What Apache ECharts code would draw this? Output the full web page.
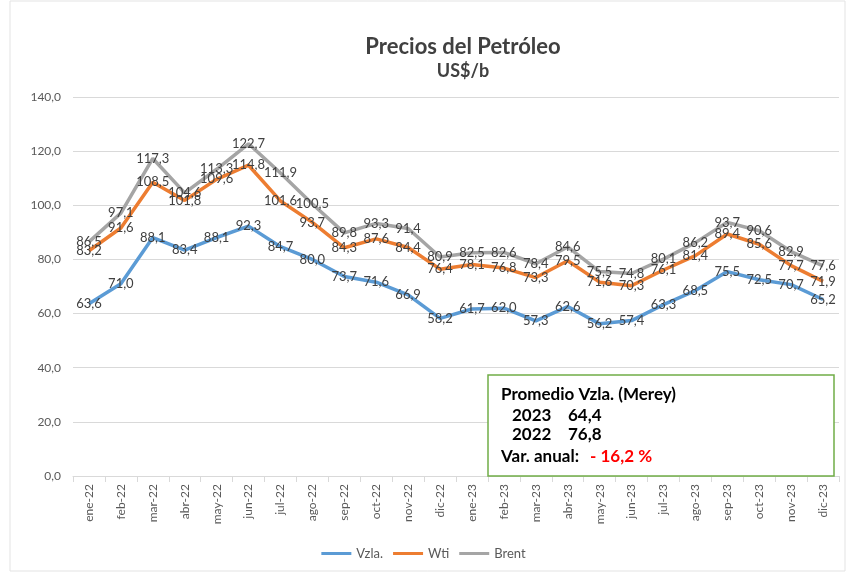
<!DOCTYPE html>
<html>
<head>
<meta charset="utf-8">
<script src="https://cdn.jsdelivr.net/npm/echarts@6/dist/echarts.min.js"></script>
<style>html,body{margin:0;padding:0;background:#fff}#c{width:847px;height:573px}</style>
</head>
<body>
<div id="c"></div>
<script>
const categories = ['ene-22','feb-22','mar-22','abr-22','may-22','jun-22','jul-22','ago-22','sep-22','oct-22','nov-22','dic-22','ene-23','feb-23','mar-23','abr-23','may-23','jun-23','jul-23','ago-23','sep-23','oct-23','nov-23','dic-23'];
const vzla = [63.6,71.0,88.1,83.4,88.1,92.3,84.7,80.0,73.7,71.6,66.9,58.2,61.7,62.0,57.3,62.6,56.2,57.4,63.3,68.5,75.5,72.5,70.7,65.2];
const wti = [83.2,91.6,108.5,101.8,109.6,114.8,101.6,93.7,84.3,87.6,84.4,76.4,78.1,76.8,73.3,79.5,71.6,70.3,76.1,81.4,89.4,85.6,77.7,71.9];
const brent = [86.5,97.1,117.3,104.6,113.3,122.7,111.9,100.5,89.8,93.3,91.4,80.9,82.5,82.6,78.4,84.6,75.5,74.8,80.1,86.2,93.7,90.6,82.9,77.6];
const yTicks = [0,20,40,60,80,100,120,140];

const FONT = 'Lato';
const fmt = v => Number(v).toFixed(1).replace('.', ',');
const chart = echarts.init(document.getElementById('c'));

function mk(name, data, color) {
  return {
    name, type: 'line', data, showSymbol: true, symbol: 'circle', symbolSize: 0.1,
    lineStyle: { width: 3.5, color }, itemStyle: { color },
    label: { show: true, position: 'inside', offset: [2, 0], formatter: p => fmt(p.value), color: '#404040', fontSize: 13, fontFamily: FONT },
    labelLayout: { hideOverlap: false },
    emphasis: { disabled: true }
  };
}

const bf = 'bold 17px Lato';
chart.setOption({
  animation: false,
  title: {
    text: 'Precios del Petróleo', subtext: 'US$/b', left: 458, top: 31, textAlign: 'center',
    textStyle: { fontFamily: FONT, fontSize: 22, fontWeight: 'bold', color: '#404040' },
    subtextStyle: { fontFamily: FONT, fontSize: 18, fontWeight: 'bold', color: '#404040' },
    itemGap: 4
  },
  legend: {
    bottom: 8, left: 'center', itemWidth: 30, itemHeight: 3, icon: 'rect', itemGap: 10,
    textStyle: { fontFamily: FONT, fontSize: 13, color: '#595959' },
    data: ['Vzla.', 'Wti', 'Brent']
  },
  grid: { left: 73, right: 8, top: 97, bottom: 97 },
  xAxis: {
    type: 'category', data: categories, boundaryGap: true,
    axisLine: { lineStyle: { color: '#d9d9d9' } },
    axisTick: { show: true, length: 6, lineStyle: { color: '#d9d9d9' } },
    axisLabel: { rotate: 90, fontFamily: FONT, fontSize: 12, color: '#595959', margin: 8, interval: 0 }
  },
  yAxis: {
    type: 'value', min: yTicks[0], max: yTicks[yTicks.length - 1], interval: 20,
    axisLabel: { formatter: fmt, fontFamily: FONT, fontSize: 12, color: '#595959', margin: 12 },
    splitLine: { lineStyle: { color: '#d9d9d9' } },
    axisLine: { show: false }, axisTick: { show: false }
  },
  series: [mk('Vzla.', vzla, '#5b9bd5'), mk('Wti', wti, '#ed7d31'), mk('Brent', brent, '#a5a5a5')],
  graphic: [
    { type: 'rect', shape: { x: 10, y: 1, width: 835, height: 570 }, style: { fill: 'none', stroke: '#e3e3e3', lineWidth: 1 }, z: -1 },
    { type: 'rect', shape: { x: 488, y: 375, width: 346, height: 101 }, style: { fill: '#fff', stroke: '#70ad47', lineWidth: 1.5 }, z: 100 },
    { type: 'text', left: 501, top: 386, z: 101, style: { text: 'Promedio Vzla. (Merey)', font: bf, fill: '#000' } },
    { type: 'text', left: 512, top: 407, z: 101, style: { text: '2023', font: bf, fill: '#000' } },
    { type: 'text', left: 568, top: 407, z: 101, style: { text: '64,4', font: bf, fill: '#000' } },
    { type: 'text', left: 512, top: 426, z: 101, style: { text: '2022', font: bf, fill: '#000' } },
    { type: 'text', left: 568, top: 426, z: 101, style: { text: '76,8', font: bf, fill: '#000' } },
    { type: 'text', left: 501, top: 448, z: 101, style: { text: 'Var. anual:', font: bf, fill: '#000' } },
    { type: 'text', left: 590, top: 448, z: 101, style: { text: '- 16,2 %', font: bf, fill: '#ff0000' } }
  ]
});
</script>
</body>
</html>
